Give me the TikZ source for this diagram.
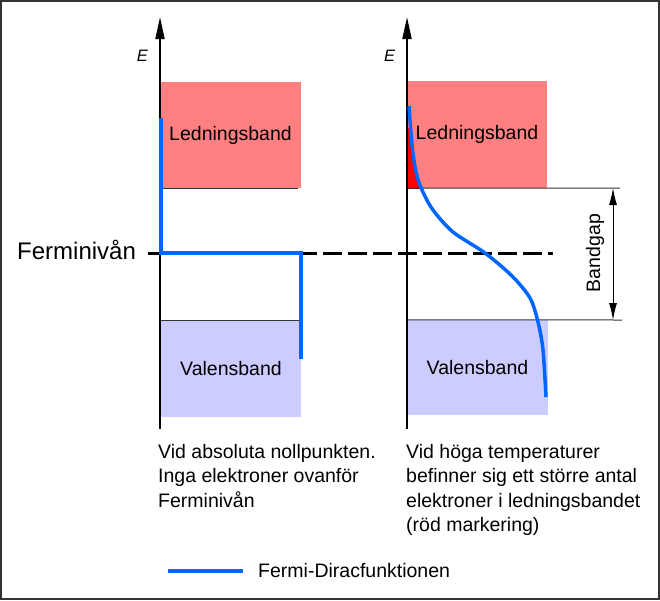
\documentclass[tikz,border=0pt]{standalone}
\usepackage{fontspec}
\setmainfont{Liberation Sans}
\usepackage{xcolor}
\definecolor{DarkGrey}{HTML}{333333}
\definecolor{EdgeGrey}{HTML}{333333}
\definecolor{BandRed}{HTML}{FF8080}
\definecolor{BandBlue}{HTML}{CCCCFF}
\definecolor{FermiBlue}{HTML}{0066FF}
\usepackage{tikz}
\usetikzlibrary{arrows.meta,positioning}
\newcommand\TextSize{\fontsize{19.5}{24.5}\selectfont}
\newcommand\FermiY{253}
\newcommand\AxisTop{17}
\newcommand\AxisBottom{429}
\tikzstyle{band}=[rectangle,inner sep=0pt,text centered,minimum width=140pt,font=\TextSize]
\tikzstyle{note}=[inner sep=0pt,font=\TextSize]
\tikzstyle{eaxis}=[line width=2pt,-{Triangle[length=22pt,width=9pt]}]
\tikzstyle{fermi}=[line width=3.5pt,FermiBlue]
\tikzstyle{bandedge}=[line width=1pt,EdgeGrey]
\tikzstyle{gaparrow}=[line width=1pt,{Latex[length=17pt,width=8pt]}-{Latex[length=17pt,width=8pt]}]
\tikzstyle{fermilevel}=[line width=3pt,dash pattern=on 19pt off 6pt]

\begin{document}
\begin{tikzpicture}[x=1pt,y=-1pt]
      \useasboundingbox (0,0) rectangle (660,600);
      \draw[DarkGrey,line width=2pt] (1,1) rectangle (659,599);
      \node[band] (lcb) at (230.5,135) [fill=BandRed,minimum height=106pt] {Ledningsband};
      \node[band] (lvb) at (231,369) [fill=BandBlue,minimum height=96pt] {Valensband};
      \node[band] (rcb) at (477,134.5) [fill=BandRed,minimum height=107pt] {Ledningsband};
      \node[band] (rvb) at (477.5,367.5) [fill=BandBlue,minimum height=95pt,minimum width=141pt] {Valensband};
      \begin{scope}
        \clip (407,128) rectangle (470,188);
        \fill[red] plot[smooth] coordinates {(409,106) (412,145) (416,172) (422,190) (433,210) (453,232) (485,253) (512,276) (530,298) (538,322) (543,350) (546,397)} -- (407,397) -- (407,106) -- cycle;
      \end{scope}
      \coordinate (gapup) at (613,188);
      \coordinate (gapdown) at (613,320);
      \coordinate (gapupend) at (620,188);
      \coordinate (gapdownend) at (622,320);
      \draw[bandedge] (lcb.south west) -- ([xshift=-3pt]lcb.south east);
      \draw[bandedge] (lvb.north west) -- ([xshift=-2pt]lvb.north east);
      \draw[bandedge] (rcb.south west) -- (gapupend);
      \draw[bandedge] (rvb.north west) -- (gapdownend);
      \draw[gaparrow] (gapup) -- (gapdown);
      \node[note,rotate=90] (bandgap) at (595,\FermiY) {Bandgap};
      \coordinate (fleft) at (148,\FermiY);
      \coordinate (fright) at (553,\FermiY);
      \draw[fermilevel] (fleft) -- (fright);
      \node[note,anchor=base west,font=\fontsize{24}{28}\selectfont] (flevel) at (17,259) {Ferminivån};
      \coordinate (lorigin) at (160,\AxisBottom);
      \coordinate (ltip) at (160,\AxisTop);
      \coordinate (rorigin) at (407,\AxisBottom);
      \coordinate (rtip) at (407,\AxisTop);
      \draw[eaxis] (lorigin) -- (ltip);
      \draw[eaxis] (rorigin) -- (rtip);
      \node[note,font=\fontsize{16.5}{20}\selectfont\itshape] (leftE) at (142.5,56) {E};
      \node[note,font=\fontsize{16.5}{20}\selectfont\itshape] (rightE) at (389.5,56) {E};
      \draw[fermi] (161,118) -- (161,\FermiY) -- (301,\FermiY) -- (301,359);
      \draw[fermi] plot[smooth] coordinates {(409,106) (412,145) (416,172) (422,190) (433,210) (453,232) (485,253) (512,276) (530,298) (538,322) (543,350) (546,397)};
      \node[note,anchor=north west,align=left] (lefttext) at (158,444) {Vid absoluta nollpunkten.\\Inga elektroner ovanför\\Ferminivån};
      \node[note,anchor=north west,align=left] (righttext) at (406,444) {Vid höga temperaturer\\befinner sig ett större antal\\elektroner i ledningsbandet\\(röd markering)};
      \coordinate (legleft) at (168,571);
      \coordinate (legright) at (243,571);
      \draw[fermi,line width=4pt] (legleft) -- (legright);
      \node[note,anchor=base west] (legtext) at (258,577) {Fermi-Diracfunktionen};
   \end{tikzpicture}
\end{document}
